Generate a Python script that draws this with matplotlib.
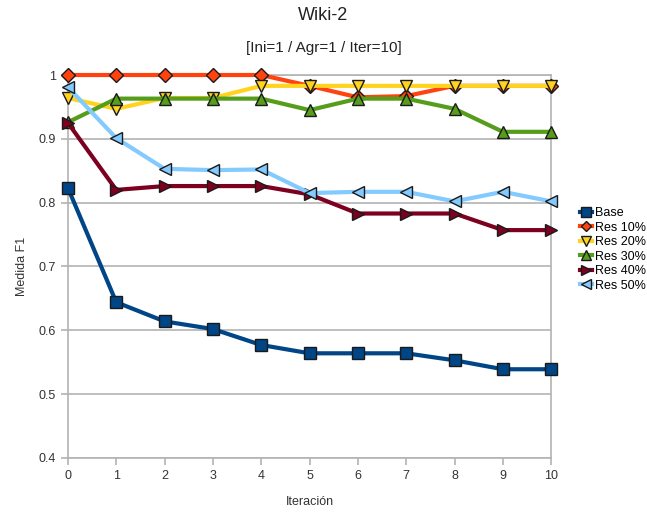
import matplotlib
matplotlib.use("Agg")
import matplotlib.pyplot as plt

plt.rcParams['font.family'] = ['Liberation Sans', 'DejaVu Sans']

iteraciones = list(range(11))
base = [0.823, 0.644, 0.614, 0.602, 0.577, 0.564, 0.564, 0.564, 0.553, 0.539, 0.539]
res10 = [1.0, 1.0, 1.0, 1.0, 1.0, 0.983, 0.965, 0.967, 0.983, 0.983, 0.983]
res20 = [0.964, 0.947, 0.964, 0.964, 0.983, 0.983, 0.983, 0.983, 0.983, 0.983, 0.983]
res30 = [0.926, 0.963, 0.963, 0.963, 0.963, 0.945, 0.963, 0.963, 0.947, 0.911, 0.911]
res40 = [0.925, 0.820, 0.826, 0.826, 0.826, 0.813, 0.783, 0.783, 0.783, 0.757, 0.757]
res50 = [0.981, 0.901, 0.853, 0.851, 0.852, 0.815, 0.817, 0.817, 0.802, 0.817, 0.802]

series = [
    ("Base", base, "#004586", "s", 9),
    ("Res 10%", res10, "#ff420e", "D", 7),
    ("Res 20%", res20, "#ffd320", "v", 9),
    ("Res 30%", res30, "#579d1c", "^", 9),
    ("Res 40%", res40, "#7e0021", ">", 9),
    ("Res 50%", res50, "#83caff", "<", 9),
]

fig = plt.figure(figsize=(6.47, 5.12), dpi=100)
ax = fig.add_axes([0.105, 0.1055, 0.747, 0.748])

for label, vals, color, marker, ms in series:
    ax.plot(iteraciones, vals, color=color, lw=3, marker=marker, markersize=ms,
            markerfacecolor=color, markeredgecolor="#1a1a1a", markeredgewidth=1,
            label=label, zorder=3, clip_on=False)

ax.set_xlim(0, 10)
ax.set_ylim(0.4, 1.0)
ax.set_xticks(iteraciones)
ax.set_yticks([0.4, 0.5, 0.6, 0.7, 0.8, 0.9, 1.0])
ax.set_yticklabels(["0.4", "0.5", "0.6", "0.7", "0.8", "0.9", "1"])
ax.grid(axis="y", color="#b3b3b3", lw=1.2)
for s in ax.spines.values():
    s.set_color("#b3b3b3")
    s.set_linewidth(1.2)
ax.tick_params(axis="both", colors="#b3b3b3", labelcolor="#333333", labelsize=9,
               length=5, width=1.2)

ax.set_xlabel("Iteración", fontsize=9, color="#333333", labelpad=10)
ax.set_ylabel("Medida F1", fontsize=9, color="#333333", labelpad=8)

fig.text(0.5, 0.97, "Wiki-2", ha="center", va="center", fontsize=13, color="#222222")
fig.text(0.5, 0.907, "[Ini=1 / Agr=1 / Iter=10]", ha="center", va="center", fontsize=11, color="#222222")

leg = fig.legend(loc="upper left", bbox_to_anchor=(0.888, 0.605), frameon=False,
                 fontsize=9, handlelength=1.0, handletextpad=0.2, labelspacing=0.2,
                 borderaxespad=0, markerscale=0.75)

fig.savefig("out.png", dpi=100)
